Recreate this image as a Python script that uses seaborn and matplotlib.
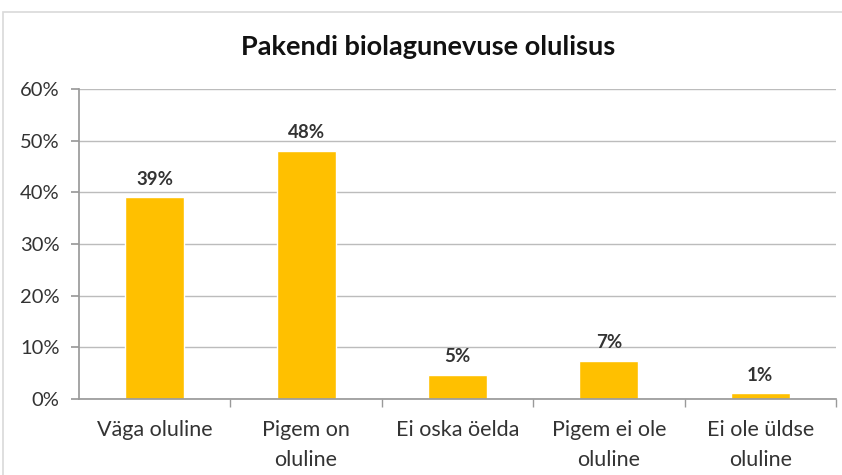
import matplotlib
matplotlib.use("Agg")
import matplotlib.pyplot as plt
import seaborn as sns
import pandas as pd
from matplotlib.patches import Rectangle
from matplotlib.ticker import PercentFormatter, FixedLocator

categories = ["Väga oluline", "Pigem on\noluline", "Ei oska öelda", "Pigem ei ole\noluline", "Ei ole üldse\noluline"]
values = [0.39, 0.48, 0.047, 0.074, 0.011]
labels = ["39%", "48%", "5%", "7%", "1%"]
title = "Pakendi biolagunevuse olulisus"

sns.set_theme(style="white")
plt.rcParams['font.family'] = ['Lato', 'DejaVu Sans']

W, H = 842, 475
fig = plt.figure(figsize=(W/100, H/100), dpi=100)
ax = fig.add_axes([79/W, 1-399/H, (836-79)/W, (399-89)/H])

df = pd.DataFrame({"cat": categories, "val": values})
sns.barplot(data=df, x="cat", y="val", color="#FFC000", width=0.39, ax=ax, saturation=1)

ax.set_ylim(0, 0.6)
ax.set_xlim(-0.5, 4.5)
ax.set_yticks([0, 0.1, 0.2, 0.3, 0.4, 0.5, 0.6])
ax.yaxis.set_major_formatter(PercentFormatter(1.0, decimals=0))
ax.grid(axis="y", color="#bcbcbc", linewidth=1)
ax.set_axisbelow(True)
for s in ["top", "right"]:
    ax.spines[s].set_visible(False)
ax.spines["left"].set_color("#9a9a9a")
ax.spines["bottom"].set_color("#9a9a9a")
ax.set_xlabel("")
ax.set_ylabel("")
ax.tick_params(axis="y", labelsize=14.5, labelcolor="#333333", left=True, length=6, color="#9a9a9a", pad=8)
ax.tick_params(axis="x", which="major", labelsize=15.5, labelcolor="#333333", length=0, pad=15)
ax.xaxis.set_minor_locator(FixedLocator([0.5, 1.5, 2.5, 3.5, 4.5]))
ax.tick_params(axis="x", which="minor", length=6, color="#9a9a9a", bottom=True)
for t in ax.get_xticklabels():
    t.set_linespacing(1.65)

for i, (v, lab) in enumerate(zip(values, labels)):
    ax.annotate(lab, (i, v), xytext=(0, 7), textcoords="offset points",
                ha="center", va="bottom", fontsize=13.5, fontweight="bold", color="#333333")

fig.text(428/W, 1-47/H, title, ha="center", va="center", fontsize=19.5, fontweight="bold", color="#111111")

fig.patches.append(Rectangle((3/W, -0.1), 1.2, 1-12/H+0.1, transform=fig.transFigure,
                             fill=False, edgecolor="#d9d9d9", linewidth=1.2))

fig.savefig("out.png", dpi=100)
